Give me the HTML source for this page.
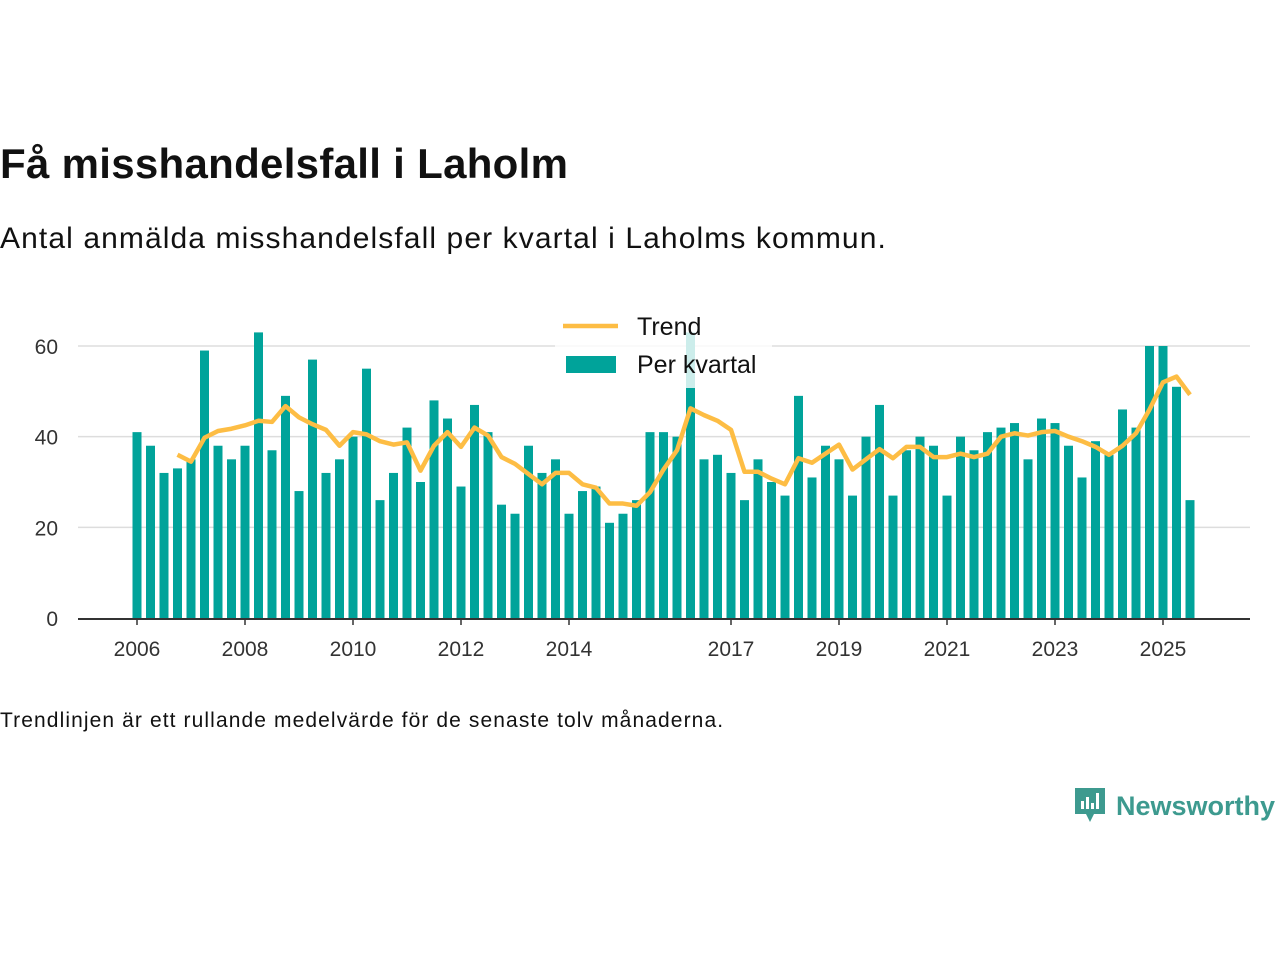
<!DOCTYPE html>
<html><head><meta charset="utf-8"><style>
body{margin:0;background:#fff;width:1280px;height:960px;overflow:hidden;font-family:"Liberation Sans","DejaVu Sans",sans-serif;color:#111}
#title{position:absolute;left:0;top:140px;font-size:42px;font-weight:bold;margin:0;letter-spacing:0.3px}
#sub{position:absolute;left:0;top:222px;font-size:30px;margin:0;letter-spacing:1.1px}
#note{position:absolute;left:0;top:709px;font-size:21px;letter-spacing:1.1px}
#logo{position:absolute;left:1072px;top:786px;display:flex;align-items:center;gap:8px;color:#3d9a8f;font-size:27px;font-weight:bold}
svg{position:absolute;left:0;top:0}
</style></head><body>
<h1 id="title">Få misshandelsfall i Laholm</h1>
<p id="sub">Antal anmälda misshandelsfall per kvartal i Laholms kommun.</p>
<svg id="chart" width="1280" height="700"></svg>
<div id="note">Trendlinjen är ett rullande medelvärde för de senaste tolv månaderna.</div>
<div id="logo">
<svg width="36" height="40" viewBox="0 0 36 40" style="position:static"><path d="M3 2h30v26H22l-4 8-4-8H3z" fill="#3d9a8f"/><rect x="9" y="15" width="3" height="8" fill="#fff"/><rect x="14" y="11" width="3" height="12" fill="#fff"/><rect x="19" y="17" width="3" height="6" fill="#fff"/><rect x="24" y="7" width="3" height="16" fill="#fff"/></svg>
<span>Newsworthy</span></div>
<script>
const years=[2006,2008,2010,2012,2014,2017,2019,2021,2023,2025];
const yTicks=[0,20,40,60];
const values=[41,38,32,33, 35,59,38,35, 38,63,37,49, 28,57,32,35, 40,55,26,32, 42,30,48,44, 29,47,41,25, 23,38,32,35, 23,28,29,21, 23,26,41,41, 40,63,35,36, 32,26,35,30, 27,49,31,38, 35,27,40,47, 27,37,40,38, 27,40,37,41, 42,43,35,44, 43,38,31,39, 36,46,42,60, 60,51,26];
const startYear=2006;
const svg=document.getElementById('chart');
const NS='http://www.w3.org/2000/svg';
const x0=137,perQ=13.5,yBase=618,perUnit=(618-346)/60;
const xq=i=>x0+i*perQ;
const xy=y=>x0+(y-startYear)*4*perQ;
const yv=v=>yBase-v*perUnit;
function mk(t,a){const e=document.createElementNS(NS,t);for(const k in a)e.setAttribute(k,a[k]);svg.appendChild(e);return e;}
yTicks.forEach(t=>{
 if(t>0){const g=mk('line',{x1:78,x2:1250,y1:yv(t),y2:yv(t),stroke:'#ddd','stroke-width':1.5});
 
 }
 const l=mk('text',{x:58,y:yv(t)+8,'text-anchor':'end','font-size':21,fill:'#333'});l.textContent=t;
 
 
});
values.forEach((v,i)=>{
 const r=mk('rect',{x:xq(i)-4.5,y:yv(v),width:9,height:v*perUnit,fill:'#00a39a'});
 
 
});
const ax=mk('line',{x1:78,x2:1250,y1:yBase+1,y2:yBase+1,stroke:'#333','stroke-width':2});


years.forEach(y=>{
 const tk=mk('line',{x1:xy(y),x2:xy(y),y1:619,y2:625,stroke:'#333','stroke-width':1.5});
 
 
 const l=mk('text',{x:xy(y),y:656,'text-anchor':'middle','font-size':21,fill:'#333'});l.textContent=y;
 
 
});
let pts=[];
for(let i=3;i<values.length;i++){const m=(values[i]+values[i-1]+values[i-2]+values[i-3])/4;pts.push(xq(i)+','+yv(m));}
const tl=mk('polyline',{points:pts.join(' '),fill:'none',stroke:'#fdbd44','stroke-width':4.5,'stroke-linejoin':'round'});


const lg=mk('rect',{x:555,y:312,width:217,height:76,fill:'#fff',opacity:0.8});


const l1=mk('line',{x1:563,x2:618,y1:326,y2:326,stroke:'#fdbd44','stroke-width':4.5});


const t1=mk('text',{x:637,y:335,'font-size':25,fill:'#111'});t1.textContent='Trend';


const r2=mk('rect',{x:566,y:356,width:50,height:17,fill:'#00a39a'});


const t2=mk('text',{x:637,y:373,'font-size':25,fill:'#111'});t2.textContent='Per kvartal';


</script>
</body></html>
